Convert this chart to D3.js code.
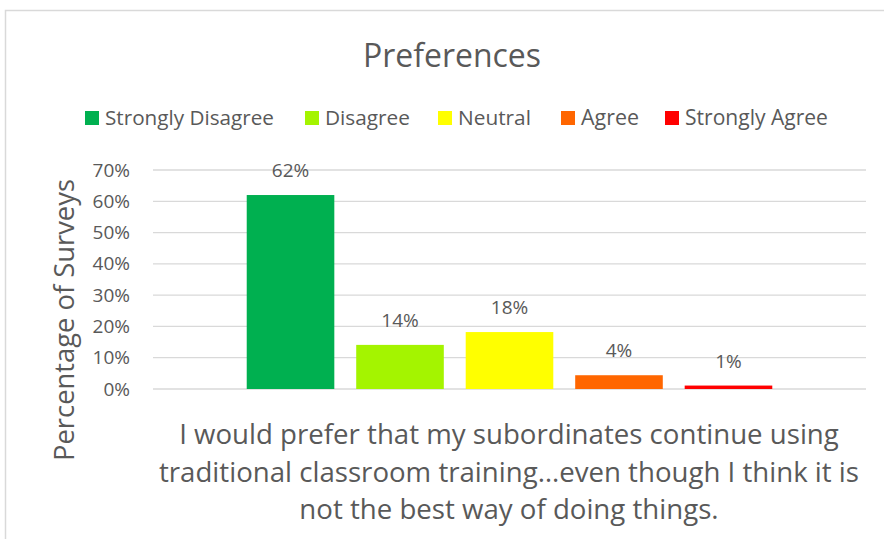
<!DOCTYPE html>
<html>
<head>
<meta charset="utf-8">
<script src="https://cdn.jsdelivr.net/npm/d3@7"></script>
<style>
  body { margin: 0; background: #fff; }
  svg text { fill: #595959; }
</style>
</head>
<body>
<div id="chart"></div>
<script>
// chart data
const title = 'Preferences';
const categories = ['I would prefer that my subordinates continue using traditional classroom training…even though I think it is not the best way of doing things.'];
const categoryLines = [
  'I would prefer that my subordinates continue using',
  'traditional classroom training…even though I think it is',
  'not the best way of doing things.'
];
const series = ['Strongly Disagree', 'Disagree', 'Neutral', 'Agree', 'Strongly Agree'];
const values = [0.62, 0.141, 0.182, 0.044, 0.011];
const colors = ['#00b050', '#a4f400', '#ffff00', '#ff6600', '#ff0000'];
const yTicks = [0, 0.1, 0.2, 0.3, 0.4, 0.5, 0.6, 0.7];
const yTitle = 'Percentage of Surveys';

const W = 884, H = 539;
const margin = {top: 170, right: 18, bottom: 150, left: 153};
const dim = {w: W - margin.left - margin.right, h: H - margin.top - margin.bottom};
const narrow = '"Open Sans", sans-serif';
const wide = '"Open Sans", sans-serif';

const svg = d3.select('#chart').append('svg')
  .attr('width', W)
  .attr('height', H);

// chart frame
svg.append('rect')
  .attr('x', 5.5).attr('y', 10.5)
  .attr('width', W + 10).attr('height', H + 10)
  .attr('fill', 'none').attr('stroke', '#d9d9d9').attr('stroke-width', 1.5);

// fit a text element to a target width
function fit(sel, width) {
  const n = sel.node();
  const size = parseFloat(sel.attr('font-size'));
  const len = n.getComputedTextLength();
  if (len > 0) sel.attr('font-size', size * width / len);
  return sel;
}

svg.append('text')
  .attr('x', 452).attr('y', 67)
  .attr('text-anchor', 'middle')
  .attr('font-family', narrow).attr('font-size', 30)
  .text(title)
  .call(fit, 178);

const g = svg.append('g')
  .attr('transform', `translate(${margin.left}, ${margin.top})`);

const x0 = d3.scaleBand().domain(categories).range([0, dim.w]);
const x1 = d3.scaleBand().domain(series).range([0, x0.bandwidth()])
  .paddingInner(0.2).paddingOuter(0.856);
const y = d3.scaleLinear().domain([0, 0.7]).range([dim.h, 0]);

// gridlines
g.append('g')
  .selectAll('line')
  .data(yTicks)
  .join('line')
  .attr('x1', 0).attr('x2', dim.w)
  .attr('y1', d => y(d)).attr('y2', d => y(d))
  .attr('stroke', '#d9d9d9').attr('stroke-width', 1.3);

// y axis
const yAxis = g.append('g')
  .call(d3.axisLeft(y).tickValues(yTicks).tickFormat(d3.format('.0%')).tickSize(0).tickPadding(23));
yAxis.select('.domain').remove();
yAxis.selectAll('text')
  .attr('font-family', wide).attr('font-size', 19).attr('fill', '#595959');

// bars
const grp = g.selectAll('g.cat')
  .data(categories)
  .join('g')
  .attr('class', 'cat')
  .attr('transform', d => `translate(${x0(d)}, 0)`);

grp.selectAll('rect')
  .data(series.map((s, i) => ({s, v: values[i], c: colors[i]})))
  .join('rect')
  .attr('x', d => x1(d.s))
  .attr('y', d => y(d.v))
  .attr('width', x1.bandwidth())
  .attr('height', d => dim.h - y(d.v))
  .attr('fill', d => d.c);

grp.selectAll('text.lbl')
  .data(series.map((s, i) => ({s, v: values[i]})))
  .join('text')
  .attr('class', 'lbl')
  .attr('x', d => x1(d.s) + x1.bandwidth() / 2)
  .attr('y', d => y(d.v) - 18)
  .attr('text-anchor', 'middle')
  .attr('font-family', wide).attr('font-size', 19)
  .text(d => d3.format('.0%')(d.v));

// category label
const catLbl = svg.append('text')
  .attr('text-anchor', 'middle')
  .attr('font-family', narrow).attr('font-size', 26);
catLbl.selectAll('tspan')
  .data(categoryLines)
  .join('tspan')
  .attr('x', 509)
  .attr('y', (d, i) => 444 + i * 37.5)
  .text(d => d);
// scale so the first line spans ~660px
{
  const t = catLbl.select('tspan').node();
  const len = t.getComputedTextLength();
  if (len > 0) catLbl.attr('font-size', 26 * 660 / len);
}

// y title
svg.append('text')
  .attr('transform', 'translate(74, 320) rotate(-90)')
  .attr('text-anchor', 'middle')
  .attr('font-family', wide).attr('font-size', 24)
  .text(yTitle)
  .call(fit, 282);

// legend
const legendX = [85, 305, 438, 561, 665];
const legendW = [169, 85, 73, 58, 143];
const leg = svg.append('g').selectAll('g')
  .data(series)
  .join('g')
  .attr('transform', (d, i) => `translate(${legendX[i]}, 118)`);
leg.append('rect')
  .attr('x', 0).attr('y', -7).attr('width', 14).attr('height', 14)
  .attr('fill', (d, i) => colors[i]);
leg.append('text')
  .attr('x', 20).attr('y', 7)
  .attr('font-family', narrow).attr('font-size', 20)
  .text(d => d)
  .each(function(d, i) { fit(d3.select(this), legendW[i]); });
</script>
</body>
</html>
